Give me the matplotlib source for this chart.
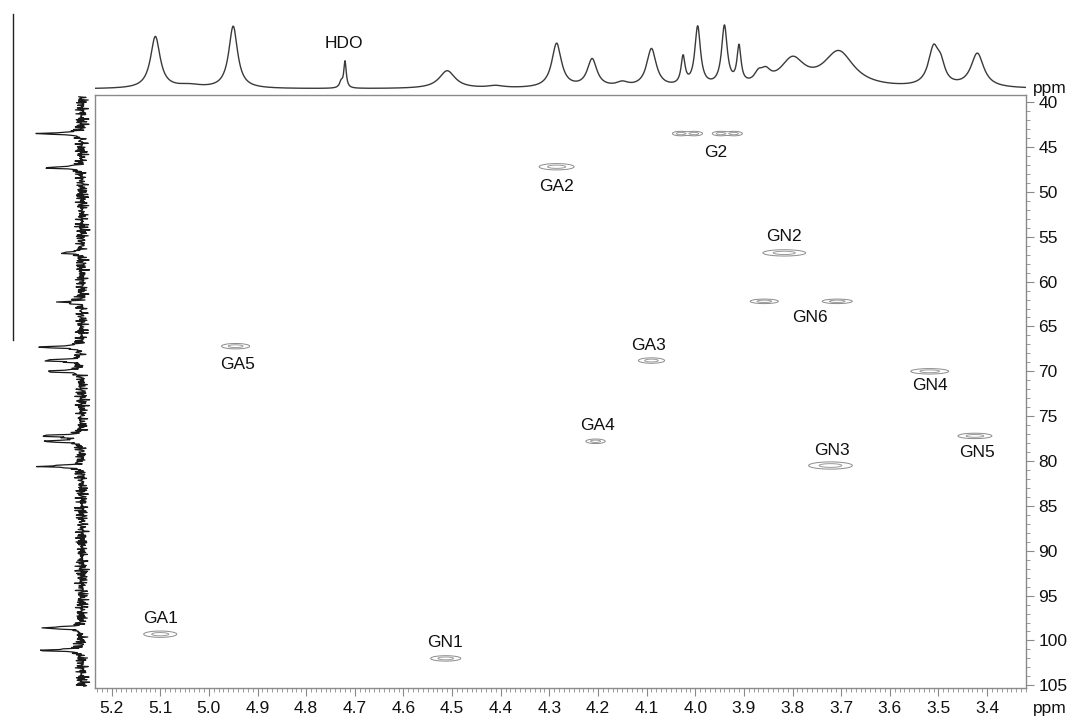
import numpy as np
import matplotlib
matplotlib.use("Agg")
import matplotlib.pyplot as plt
from matplotlib.lines import Line2D
from matplotlib.ticker import MultipleLocator, FormatStrFormatter

plt.rcParams['font.family'] = ['Liberation Sans', 'DejaVu Sans']

# 2D cross peaks: 1H ppm, 13C ppm, half width 1H, half width 13C
pk_h = [4.030, 4.002, 3.948, 3.920, 4.285, 3.817, 3.858, 3.708, 4.945, 4.090,
        4.205, 3.518, 3.425, 3.722, 5.100, 4.513]
pk_c = [43.5, 43.5, 43.5, 43.5, 47.2, 56.8, 62.2, 62.2, 67.2, 68.8,
        77.8, 70.0, 77.2, 80.5, 99.3, 102.0]
pk_wh = [0.017, 0.017, 0.017, 0.017, 0.036, 0.044, 0.029, 0.031, 0.029, 0.027,
         0.020, 0.039, 0.035, 0.045, 0.034, 0.031]
pk_wc = [0.25, 0.25, 0.25, 0.25, 0.35, 0.35, 0.25, 0.25, 0.3, 0.3,
         0.25, 0.3, 0.3, 0.4, 0.35, 0.3]

# labels
lab_txt = ['G2', 'GA2', 'GN2', 'GN6', 'GA5', 'GA3', 'GA4', 'GN4', 'GN5', 'GN3', 'GA1', 'GN1']
lab_h = [3.957, 4.286, 3.817, 3.764, 4.940, 4.097, 4.200, 3.517, 3.420, 3.720, 5.100, 4.514]
lab_c = [45.6, 49.4, 55.0, 64.0, 69.2, 67.1, 76.0, 71.6, 79.1, 78.8, 97.5, 100.2]

# 1H projection: position, height, half width
h1_pos = [5.110, 5.040, 4.950, 4.728, 4.720, 4.510, 4.410, 4.285, 4.212, 4.150,
          4.090, 4.025, 3.995, 3.940, 3.910, 3.870, 3.855, 3.800, 3.705, 3.510,
          3.495, 3.420]
h1_amp = [0.70, 0.04, 0.84, 0.08, 0.36, 0.24, 0.03, 0.60, 0.38, 0.06,
          0.52, 0.38, 0.80, 0.80, 0.50, 0.12, 0.14, 0.36, 0.48, 0.50,
          0.22, 0.46]
h1_w = [0.012, 0.03, 0.011, 0.004, 0.003, 0.02, 0.02, 0.012, 0.012, 0.015,
        0.012, 0.005, 0.007, 0.007, 0.005, 0.01, 0.012, 0.03, 0.038, 0.013,
        0.01, 0.016]

# 13C projection: position, height
c13_pos = [43.5, 47.3, 56.8, 62.3, 67.3, 68.8, 70.0, 77.2, 77.8, 80.6, 98.6, 101.1]
c13_amp = [1.0, 0.92, 0.5, 0.5, 1.02, 0.98, 0.88, 1.0, 0.9, 0.98, 0.98, 0.98]

noise_a = [0.3, -0.6, 0.9, -0.2, 0.5, -0.9, 0.1, 0.7, -0.4, 0.8, -0.7, 0.2,
           -0.3, 1.0, -0.8, 0.4, -0.1, 0.6, -1.0, 0.3, 0.9, -0.5, 0.0, -0.7,
           0.6, -0.2, 0.8, -0.9, 0.5, -0.4, 0.2, 0.7, -0.6, 0.1, -0.8, 0.9, -0.3]
noise_b = [0.5, -0.3, -0.8, 0.6, 0.2, -0.5, 0.9, -0.1, -0.7, 0.4, 0.8, -0.9,
           0.3, -0.2, 0.7, -0.6, 0.1, 0.5, -0.4, -0.9, 0.6, 0.2, -0.3]

line_col = '#3a3a3a'
frame_col = '#8a8a8a'
fs = 12.5

h_lo, h_hi = 3.32, 5.234
c_lo, c_hi = 39.2, 105.3

fig = plt.figure(figsize=(10.74, 7.19), dpi=100)

# main 2D panel
ax = fig.add_axes([0.0885, 0.0431, 0.8668, 0.8248])
hh = np.linspace(h_lo - 0.05, h_hi + 0.05, 1600)
cc = np.linspace(c_lo - 1, c_hi + 1, 1500)
H, C = np.meshgrid(hh, cc)
Z = np.zeros_like(H)
for x0, y0, wx, wy in zip(pk_h, pk_c, pk_wh, pk_wc):
    Z += np.exp(-0.5 * ((H - x0) / (wx / 1.95)) ** 2 - 0.5 * ((C - y0) / (wy / 1.95)) ** 2)
ax.contour(H, C, Z, levels=[0.15, 0.6], colors=['#8c8c8c', '#9a9a9a'],
           linewidths=0.7)
for t, x, y in zip(lab_txt, lab_h, lab_c):
    ax.text(x, y, t, ha='center', va='center', fontsize=fs, color='#111111')

ax.set_xlim(h_hi, h_lo)
ax.set_ylim(c_hi, c_lo)
ax.xaxis.set_major_locator(MultipleLocator(0.1))
ax.xaxis.set_minor_locator(MultipleLocator(0.01))
ax.xaxis.set_major_formatter(FormatStrFormatter('%.1f'))
ax.yaxis.set_major_locator(MultipleLocator(5))
ax.yaxis.set_minor_locator(MultipleLocator(1))
ax.yaxis.tick_right()
ax.tick_params(axis='both', which='major', direction='out', length=6, width=0.8,
               color=frame_col, labelsize=fs, labelcolor='#111111', pad=3)
ax.tick_params(axis='both', which='minor', direction='out', length=3, width=0.6,
               color=frame_col)
for s in ax.spines.values():
    s.set_color(frame_col)
    s.set_linewidth(1.0)
fig.text(1050 / 1074, 1 - 708 / 719, 'ppm', ha='center', va='center', fontsize=fs, color='#111111')
fig.text(1050 / 1074, 1 - 88 / 719, 'ppm', ha='center', va='center', fontsize=fs, color='#111111')

# top 1H projection
axt = fig.add_axes([0.0885, 1 - 93 / 719, 0.8668, 83 / 719])
xh = np.linspace(h_lo, h_hi, 3000)
yh = np.zeros_like(xh)
for p, a, w in zip(h1_pos, h1_amp, h1_w):
    yh += a * w ** 2 / ((xh - p) ** 2 + w ** 2)
axt.plot(xh, yh, color=line_col, lw=1.0)
axt.text(4.722, 0.62, 'HDO', ha='center', va='center', fontsize=fs, color='#111111')
axt.set_xlim(h_hi, h_lo)
axt.set_ylim(-0.054, 1.068)
axt.axis('off')

# left 13C projection
axl = fig.add_axes([35 / 1074, 0.0431, 58 / 1074, 0.8248])
n = 900
yc = np.linspace(c_lo + 0.2, c_hi - 0.2, n)
xc = 0.12 * np.resize(np.array(noise_a), n) + 0.08 * np.resize(np.array(noise_b), n)
for p, a in zip(c13_pos, c13_amp):
    xc += a * 0.12 ** 2 / ((yc - p) ** 2 + 0.12 ** 2)
axl.plot(xc, yc, color='#1a1a1a', lw=0.9)
axl.set_xlim(1.12, -0.26)
axl.set_ylim(c_hi, c_lo)
axl.axis('off')

# stray vertical rule at far left
fig.add_artist(Line2D([13 / 1074, 13 / 1074], [1 - 14 / 719, 1 - 340 / 719],
                      color='#222222', lw=1.0))

fig.savefig('out.png', dpi=100)
